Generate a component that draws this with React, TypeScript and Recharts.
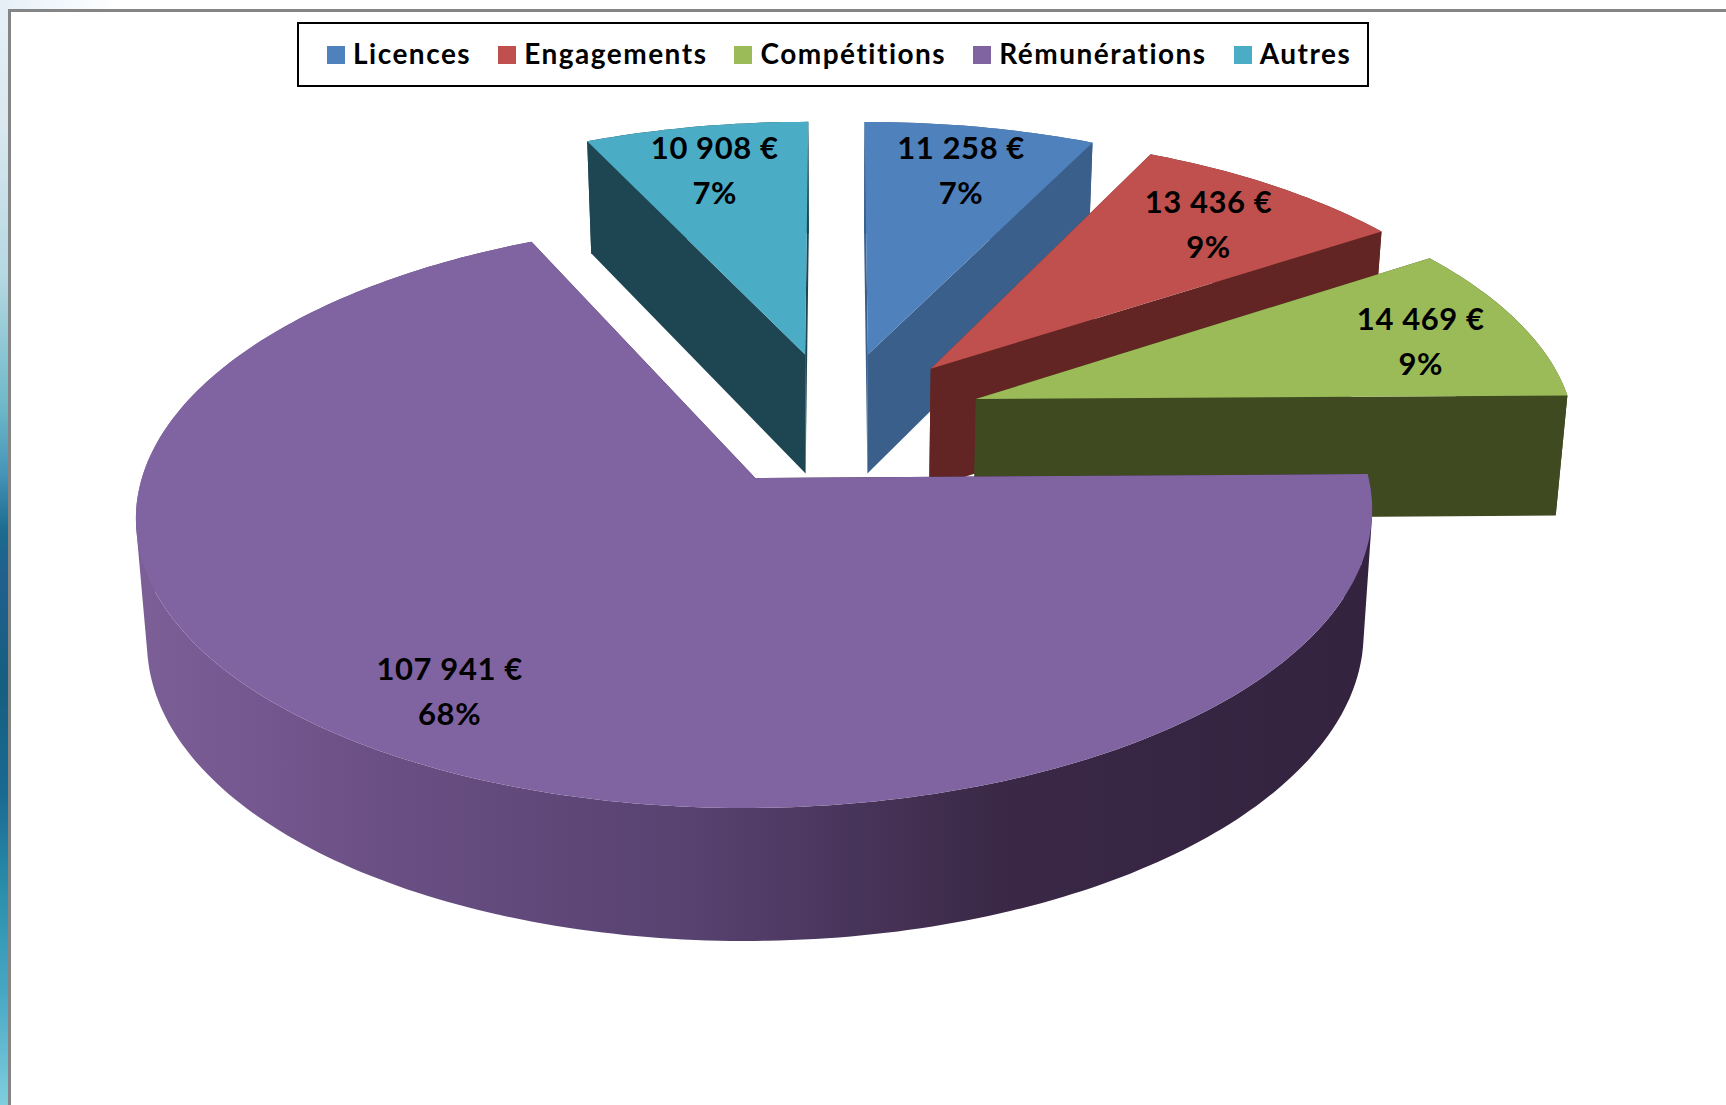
import React from 'react';
import { PieChart, Pie, Legend } from 'recharts';

const categories = ['Licences', 'Engagements', 'Compétitions', 'Rémunérations', 'Autres'];
const amounts = [11258, 13436, 14469, 107941, 10908];
const amountLabels = ['11 258 €', '13 436 €', '14 469 €', '107 941 €', '10 908 €'];
const percentLabels = ['7%', '9%', '9%', '68%', '7%'];
const topColors = ['#4f81bd', '#c0504d', '#9bbb59', '#8064a2', '#4bacc6'];
const sideColors = ['#3a5f8b', '#632523', '#3f4a21', 'url(#rimPurple)', '#1e4552'];

const data = categories.map((name, i) => ({
  name,
  value: amounts[i],
  fill: topColors[i],
  side: sideColors[i],
  amountLabel: amountLabels[i],
  percentLabel: percentLabels[i],
}));

// Perspective model of the tilted disc
const SQUASH = 0.46; // vertical radius / horizontal radius
const PERSP = 0.12; // near/far foreshortening
const EXPLODE = 0.247; // slice explosion, in radii
const DEPTH = 121; // wall height at the disc centre
const FOOT = 0.984; // horizontal convergence at the bottom of the wall
const LABEL_R = 1.04;
const LABEL_NUDGE = [[2, 0], [0, 2], [12, 4], [-16, 1], [-2, 0]];
const FONT = 'Lato, Carlito, Calibri, sans-serif';

const rad = (d: number) => (d * Math.PI) / 180;

function project(cx: number, cy: number, r: number, u: number, v: number, down = false) {
  const w = 1 - PERSP * v;
  let x = (r * u) / w;
  let y = (r * SQUASH * v) / w;
  if (down) {
    x *= FOOT;
    y += DEPTH / Math.pow(w, 0.6);
  }
  return [cx + x, cy + y];
}

const toPath = (pts: number[][]) =>
  'M' + pts.map((p) => `${p[0].toFixed(1)},${p[1].toFixed(1)}`).join('L') + 'Z';

// One sub-path per wall facet, all wound the same way, so the silhouette between
// the upper and lower rim is filled as a solid band.
function bandPath(a: number[][], b: number[][]) {
  let d = '';
  for (let i = 0; i + 1 < a.length; i++) {
    const q = [a[i], a[i + 1], b[i + 1], b[i]];
    let area = 0;
    for (let j = 0; j < 4; j++) {
      const p = q[j];
      const n = q[(j + 1) % 4];
      area += p[0] * n[1] - n[0] * p[1];
    }
    d += toPath(area < 0 ? q.slice().reverse() : q);
  }
  return d;
}

function Slice3D(props: any) {
  const { cx, cy, outerRadius: r, startAngle, endAngle, fill, side } = props;
  const t1 = 90 - startAngle;
  const t2 = 90 - endAngle;
  const m = rad((t1 + t2) / 2);
  const ex = EXPLODE * Math.sin(m);
  const ey = -EXPLODE * Math.cos(m);
  const N = Math.max(8, Math.ceil(t2 - t1));
  const rimUV: number[][] = [];
  for (let i = 0; i <= N; i++) {
    const t = rad(t1 + ((t2 - t1) * i) / N);
    rimUV.push([ex + Math.sin(t), ey - Math.cos(t)]);
  }
  const at = (uv: number[], down = false) => project(cx, cy, r, uv[0], uv[1], down);
  const apex = [ex, ey];
  const first = rimUV[0];
  const last = rimUV[rimUV.length - 1];
  const top = toPath([at(apex), ...rimUV.map((p) => at(p))]);
  const rim = bandPath(rimUV.map((p) => at(p)), rimUV.map((p) => at(p, true)));
  const cut1 = toPath([at(apex), at(first), at(first, true), at(apex, true)]);
  const cut2 = toPath([at(apex), at(last), at(last, true), at(apex, true)]);
  const wall = side.startsWith('url') ? '#35243f' : side;
  return (
    <g>
      <path d={cut1} fill={wall} />
      <path d={cut2} fill={wall} />
      <path d={rim} fill={side} />
      <path d={top} fill={fill} />
    </g>
  );
}

function SliceLabel(props: any) {
  const { cx, cy, outerRadius: r, midAngle, payload } = props;
  const m = rad(90 - midAngle);
  const [x0, y0] = project(cx, cy, r, LABEL_R * Math.sin(m), -LABEL_R * Math.cos(m));
  const item = payload.payload ?? payload;
  const nudge = LABEL_NUDGE[categories.indexOf(item.name)];
  const x = x0 + nudge[0];
  const y = y0 + nudge[1];
  return (
    <text x={x} textAnchor="middle" fontFamily={FONT} fontWeight={700} fontSize={31} letterSpacing={0.6} fill="#000">
      <tspan x={x} y={y - 11}>{item.amountLabel}</tspan>
      <tspan x={x} y={y + 34}>{item.percentLabel}</tspan>
    </text>
  );
}

function LegendBox() {
  return (
    <div
      style={{
        boxSizing: 'border-box',
        width: 1072,
        height: 65,
        border: '2px solid #000',
        background: '#fff',
        display: 'flex',
        alignItems: 'center',
        paddingLeft: 28,
        fontFamily: FONT,
        fontWeight: 700,
        fontSize: 28,
        letterSpacing: 1.5,
        color: '#000',
      }}
    >
      {categories.map((c, i) => (
        <span key={c} style={{ display: 'flex', alignItems: 'center', marginRight: 27 }}>
          <span style={{ width: 18, height: 18, background: topColors[i], marginRight: 8 }} />
          <span style={{ position: 'relative', top: -2 }}>{c}</span>
        </span>
      ))}
    </div>
  );
}

const stripStops = [
  ['0%', '#e6f0f8'], ['11%', '#dbe8f0'], ['25%', '#b5d8e2'], ['37%', '#6cb8c8'], ['43%', '#4593b8'],
  ['48%', '#1b6c8e'], ['52%', '#20608f'], ['62%', '#155f80'], ['72%', '#1a6a92'], ['81%', '#2a90ac'],
  ['90%', '#48a8c4'], ['100%', '#80cede'],
];

export default function App() {
  return (
    <div style={{ position: 'absolute', left: 0, top: 0, width: 1726, height: 1105, background: '#fff', overflow: 'hidden' }}>
      <div style={{ position: 'absolute', left: 0, top: 0, width: 120, height: 9, background: 'linear-gradient(90deg,#e6f0f8,#fff)' }} />
      <div style={{ position: 'absolute', left: 0, top: 0, width: 8, height: 1105, background: `linear-gradient(180deg,${stripStops.map((s) => `${s[1]} ${s[0]}`).join(',')})` }} />
      <div style={{ position: 'absolute', left: 8, top: 9, width: 3, height: 1096, background: '#858585' }} />
      <div style={{ position: 'absolute', left: 8, top: 9, width: 1718, height: 2.5, background: '#858585' }} />
      <div style={{ position: 'absolute', left: 0, top: 0 }}>
        <PieChart width={1726} height={1105} margin={{ top: 0, right: 0, bottom: 0, left: 0 }}>
          <defs>
            <linearGradient id="rimPurple" gradientUnits="userSpaceOnUse" x1={136} y1={0} x2={1372} y2={0}>
              <stop offset="0%" stopColor="#7d5f98" />
              <stop offset="20%" stopColor="#6a4f84" />
              <stop offset="45%" stopColor="#574270" />
              <stop offset="70%" stopColor="#3a2846" />
              <stop offset="100%" stopColor="#33233f" />
            </linearGradient>
          </defs>
          <Legend
            content={<LegendBox />}
            wrapperStyle={{ position: 'absolute', left: 297, top: 22, width: 1072, height: 65 }}
          />
          <Pie
            data={data}
            dataKey="value"
            nameKey="name"
            cx={836}
            cy={419}
            outerRadius={598}
            innerRadius={0}
            startAngle={90}
            endAngle={-270}
            stroke="none"
            shape={Slice3D}
            label={SliceLabel}
            labelLine={false}
            isAnimationActive={false}
          />
        </PieChart>
      </div>
    </div>
  );
}
